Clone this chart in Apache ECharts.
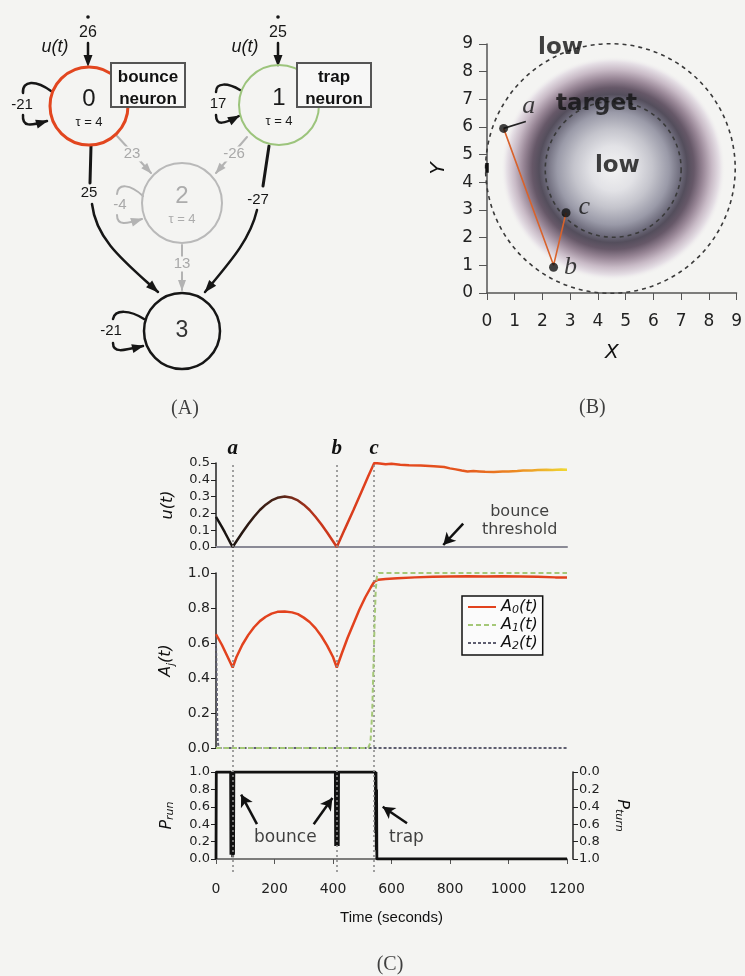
<!DOCTYPE html>
<html><head><meta charset="utf-8">
<script src="https://cdn.jsdelivr.net/npm/echarts@6/dist/echarts.min.js"></script>
<style>html,body{margin:0;padding:0;background:#f4f4f2}#c{width:745px;height:976px}</style>
</head><body><div id="c"></div><script>
// ================= DATA =================
// Panel A : network weights
const inputWeights = [26, 25];              // u(t) -> neuron 0, neuron 1
const selfWeights  = [-21, 17, -4, -21];    // neurons 0..3
const edgeFrom     = [0, 1, 0, 1, 2];
const edgeTo       = [2, 2, 3, 3, 3];
const edgeWeights  = [23, -26, 25, -27, 13];
const nodeTau      = [4, 4, 4, null];
const nodeNames    = ['0', '1', '2', '3'];

// Panel B : trajectory in the plane
const trajX = [0.6, 2.4, 2.85];
const trajY = [5.95, 1.0, 2.9];
const trajLabels = ['a', 'b', 'c'];
const tailX = [0.6, 1.4];
const tailY = [5.95, 6.2];
const startX = [0, 0];
const startY = [4.35, 4.7];
const planeTicks = [0,1,2,3,4,5,6,7,8,9];

// Panel C : time series
const eventT = [57, 413, 541];
const eventLabels = ['a', 'b', 'c'];
const uT = [0,10,20,30,40,50,57,70,90,110,130,150,170,190,210,235,260,280,300,320,340,360,380,400,413,440,470,500,520,541,560,580,600,630,660,700,745,780,800,820,840,860,880,900,920,950,980,1000,1030,1050,1080,1100,1130,1150,1180,1200];
const uV = [0.18,0.15,0.12,0.088,0.055,0.022,0,0.034,0.086,0.135,0.18,0.22,0.252,0.277,0.293,0.30,0.293,0.277,0.252,0.22,0.18,0.135,0.086,0.034,0,0.105,0.22,0.34,0.42,0.5,0.497,0.493,0.495,0.49,0.487,0.485,0.48,0.476,0.468,0.462,0.455,0.45,0.452,0.45,0.448,0.447,0.45,0.449,0.452,0.455,0.456,0.458,0.46,0.459,0.461,0.46];
const a0T = [0,20,40,57,70,90,110,130,150,170,190,210,235,260,280,300,320,340,360,380,400,413,430,450,470,490,510,530,541,555,580,620,680,740,800,860,920,980,1040,1100,1160,1200];
const a0V = [0.65,0.59,0.52,0.46,0.52,0.59,0.645,0.69,0.725,0.75,0.768,0.778,0.78,0.775,0.765,0.745,0.72,0.685,0.64,0.585,0.52,0.46,0.54,0.63,0.71,0.79,0.86,0.92,0.95,0.962,0.966,0.97,0.975,0.978,0.98,0.982,0.98,0.982,0.98,0.978,0.975,0.975];
const a1T = [0,520,528,534,538,542,546,550,556,1200];
const a1V = [0,0,0.03,0.2,0.45,0.7,0.9,0.98,1.0,1.0];
const a2T = [0,2,4,6,9,1200];
const a2V = [0.6,0.42,0.18,0.04,0,0];
const pT = [0,1,50,51,52,54,55,57,58,60,61,408,409,410,412,413,415,416,418,419,545,546,547,548,549,550,1200];
const pV = [0,1,1,0.05,1,0.05,1,0.02,1,0.05,1,1,0.15,1,0.15,1,0.15,1,0.15,1,1,0.3,1,0.1,0.8,0,0];
const timeTicks = [0,200,400,600,800,1000,1200];

// ================= LAYOUT (diagram geometry, in panel-A units) =================
const nodePos = [[89,106],[279,105],[182,203],[182,331]];
const nodeR = [39, 40, 40, 38];
const nodeCol = ['#e2461f', '#9cc47c', '#b9b9b9', '#161616'];
const nodeW = [3, 2, 2, 2.5];

const zip = (a, b) => a.map((v, i) => [v, b[i]]);

function renderNet(params, api) {
  const C = p => api.coord(p);
  const kids = [];
  const BLACK = '#161616', GREY = '#b3b3b3';
  const FONT = 'Liberation Sans, Arial, sans-serif';
  function line(a, b, color, w) {
    const A = C(a), B = C(b);
    kids.push({type:'line', shape:{x1:A[0],y1:A[1],x2:B[0],y2:B[1]}, style:{stroke:color,lineWidth:w,lineCap:'round'}});
  }
  function curve(a, c1, c2, b, color, w) {
    const A = C(a), C1 = C(c1), C2 = C(c2), B = C(b);
    kids.push({type:'bezierCurve', shape:{x1:A[0],y1:A[1],cpx1:C1[0],cpy1:C1[1],cpx2:C2[0],cpy2:C2[1],x2:B[0],y2:B[1]}, style:{stroke:color,lineWidth:w,fill:null,lineCap:'round'}});
  }
  function head(tip, from, color, len, wid) {
    const T = C(tip), F = C(from);
    const dx = T[0]-F[0], dy = T[1]-F[1], l = Math.hypot(dx, dy) || 1;
    const ux = dx/l, uy = dy/l;
    const bx = T[0]-ux*len, by = T[1]-uy*len;
    kids.push({type:'polygon', shape:{points:[[T[0]+ux*1,T[1]+uy*1],[bx-uy*wid/2,by+ux*wid/2],[bx+uy*wid/2,by-ux*wid/2]]}, style:{fill:color}});
  }
  function text(p, s, font, color, bg) {
    const P = C(p);
    const st = {text:s, font:font, fill:color, align:'center', verticalAlign:'middle'};
    if (bg) { st.backgroundColor = bg; st.padding = [0,1]; }
    kids.push({type:'text', x:P[0], y:P[1], style:st});
  }
  [[0, 88], [1, 278]].forEach(([k, x]) => {
    const P = C([x, 17]);
    kids.push({type:'circle', shape:{cx:P[0], cy:P[1], r:1.8}, style:{fill:BLACK}});
    text([x, 33], String(inputWeights[k]), '16px ' + FONT, BLACK);
    line([x, 43], [x, 57], BLACK, 2.5);
    head([x, 66], [x, 43], BLACK, 11, 9);
    text([x - 33, 47], 'u(t)', 'italic 18px ' + FONT, BLACK);
  });
  const selfGeo = [
    {t:[[51,91],[36,80],[22,80],[23,93]], b:[[23,115],[22,127],[30,126],[47,121]], lab:[22,105]},
    {t:[[240,90],[228,83],[216,82],[216,92]], b:[[216,115],[216,126],[224,124],[239,116]], lab:[218,104]},
    {t:[[143,196],[130,184],[118,183],[117,194]], b:[[117,215],[117,226],[126,224],[142,219]], lab:[120,205]},
    {t:[[144,319],[130,310],[115,309],[113,319]], b:[[113,343],[113,353],[122,351],[143,346]], lab:[111,331]}
  ];
  selfGeo.forEach((g, k) => {
    const col = k === 2 ? GREY : BLACK;
    const w = k === 2 ? 2 : 2.5;
    curve(g.t[0], g.t[1], g.t[2], g.t[3], col, w);
    curve(g.b[0], g.b[1], g.b[2], g.b[3], col, w);
    head(g.b[3], g.b[2], col, 11, 9);
    text(g.lab, String(selfWeights[k]), '15px ' + FONT, k === 2 ? '#a9a9a9' : BLACK);
  });
  const edgeGeo = [
    {seg:[[117,136],[151,173]], lab:[132,154]},
    {seg:[[247,137],[216,173]], lab:[234,154]},
    {seg1:[[91,146],[90,183]], cur:[[92,204],[96,240],[125,262],[158,292]], lab:[89,193]},
    {seg1:[[269,146],[263,186]], cur:[[257,210],[250,240],[230,262],[205,292]], lab:[258,200]},
    {seg:[[182,245],[182,290]], lab:[182,264]}
  ];
  edgeGeo.forEach((g, k) => {
    const grey = edgeFrom[k] === 2 || edgeTo[k] === 2;
    const col = grey ? GREY : BLACK;
    if (g.seg) {
      line(g.seg[0], g.seg[1], col, 2);
      head(g.seg[1], g.seg[0], col, 10, 8);
      text(g.lab, String(edgeWeights[k]), '15px ' + FONT, grey ? '#a9a9a9' : BLACK, '#f4f4f2');
    } else {
      line(g.seg1[0], g.seg1[1], col, 3);
      curve(g.cur[0], g.cur[1], g.cur[2], g.cur[3], col, 2.5);
      head(g.cur[3], g.cur[2], col, 12, 9);
      text(g.lab, String(edgeWeights[k]), '15px ' + FONT, BLACK);
    }
  });
  nodePos.forEach((p, k) => {
    const P = C(p);
    const r = api.size([nodeR[k], 0])[0];
    kids.push({type:'circle', shape:{cx:P[0], cy:P[1], r:r}, style:{fill:'rgba(0,0,0,0)', stroke:nodeCol[k], lineWidth:nodeW[k]}});
    const tc = k === 2 ? '#acacac' : '#1a1a1a';
    if (nodeTau[k] != null) {
      text([p[0], p[1] - 7], nodeNames[k], '24px ' + FONT, tc);
      text([p[0], p[1] + 16], 'τ = ' + nodeTau[k], '13px ' + FONT, tc);
    } else {
      text([p[0], p[1]], nodeNames[k], '23px ' + FONT, '#333');
    }
  });
  [[[111,63],['bounce','neuron'],148], [[297,63],['trap','neuron'],334]].forEach(([o, lines, cx]) => {
    const A = C(o), B = C([o[0] + 74, o[1] + 44]);
    kids.push({type:'rect', shape:{x:A[0], y:A[1], width:B[0]-A[0], height:B[1]-A[1]}, style:{fill:'#f7f7f6', stroke:'#555', lineWidth:2}});
    text([cx, 77], lines[0], 'bold 17px ' + FONT, '#111');
    text([cx, 99], lines[1], 'bold 17px ' + FONT, '#111');
  });
  return {type:'group', children:kids};
}

function renderCircle(kind) {
  return function (params, api) {
    const P = api.coord([api.value(0), api.value(1)]);
    const r = api.size([api.value(2), 0])[0];
    if (kind === 'field') {
      return {type:'circle', shape:{cx:P[0], cy:P[1], r:r}, style:{fill:new echarts.graphic.RadialGradient(0.5,0.5,0.5,[
        {offset:0, color:'#f3f3f3'},
        {offset:0.2, color:'#e2e2e6'},
        {offset:0.35, color:'#c4c4cc'},
        {offset:0.5, color:'#9a9aa8'},
        {offset:0.6, color:'#6e6c7c'},
        {offset:0.66, color:'#544e5c'},
        {offset:0.72, color:'#665868'},
        {offset:0.8, color:'#988696'},
        {offset:0.88, color:'#c8bac6'},
        {offset:0.95, color:'#e6e0e6'},
        {offset:1, color:'rgba(244,244,242,0)'}
      ])}};
    }
    return {type:'circle', shape:{cx:P[0], cy:P[1], r:r}, style:{fill:null, stroke:'#3a3a3a', lineWidth:1.6, lineDash:[4,4]}};
  };
}

const fieldData = [[4.55, 4.5, 4.05]];
const boundaryData = [[4.45, 4.5, 4.5], [4.55, 4.47, 2.45]];

const axisFont = 'DejaVu Sans, sans-serif';
const tickStyleC = {color:'#222', fontSize:13, fontFamily:axisFont};
const f1 = v => v.toFixed(1);
const captionLabel = {show:true, formatter:'{b}', position:'inside', fontSize:20, fontFamily:'Liberation Serif, serif', color:'#111'};

const chart = echarts.init(document.getElementById('c'));
const option = {
  backgroundColor:'#f4f4f2',
  animation:false,
  grid:[
    {left:0, top:0, width:400, height:400},
    {left:487, top:44, width:250, height:249},
    {left:216, top:463, width:351, height:84},
    {left:216, top:573, width:351, height:175},
    {left:216, top:772, width:351, height:87},
    {left:216, top:462, width:351, height:410}
  ],
  xAxis:[
    {gridIndex:0, type:'value', min:0, max:400, show:false},
    {gridIndex:1, type:'value', min:0, max:9, interval:1,
      axisLine:{lineStyle:{color:'#555', width:1.5}}, axisTick:{length:7, lineStyle:{color:'#555'}},
      axisLabel:{margin:20, fontSize:17, fontFamily:axisFont, color:'#222'}, splitLine:{show:false},
      name:'X', nameLocation:'middle', nameGap:50, nameTextStyle:{fontStyle:'italic', fontSize:20, fontFamily:axisFont, color:'#111'}},
    {gridIndex:2, type:'value', min:0, max:1200, axisLine:{lineStyle:{color:'#8a8a96', width:2}}, axisTick:{show:false}, axisLabel:{show:false}, splitLine:{show:false}},
    {gridIndex:3, type:'value', min:0, max:1200, axisLine:{show:false}, axisTick:{show:false}, axisLabel:{show:false}, splitLine:{show:false}},
    {gridIndex:4, type:'value', min:0, max:1200, interval:200, offset:11,
      axisLine:{lineStyle:{color:'#555', width:1.5}}, axisTick:{length:5, lineStyle:{color:'#555'}},
      axisLabel:{margin:12, ...tickStyleC, fontSize:14, formatter:v => String(v)}, splitLine:{show:false},
      name:'Time (seconds)', nameLocation:'middle', nameGap:40, nameTextStyle:{fontSize:15, fontFamily:'Liberation Sans, Arial', color:'#111'}},
    {gridIndex:5, type:'value', min:0, max:1200, show:false}
  ],
  yAxis:[
    {gridIndex:0, type:'value', min:0, max:400, inverse:true, show:false},
    {gridIndex:1, type:'value', min:0, max:9, interval:1,
      axisLine:{lineStyle:{color:'#555', width:1.5}}, axisTick:{length:8, lineStyle:{color:'#555'}},
      axisLabel:{margin:14, fontSize:17, fontFamily:axisFont, color:'#222'}, splitLine:{show:false},
      name:'Y', nameLocation:'middle', nameGap:38, nameTextStyle:{fontStyle:'italic', fontSize:20, fontFamily:axisFont, color:'#111'}},
    {gridIndex:2, type:'value', min:0, max:0.5, interval:0.1,
      axisLine:{show:true, lineStyle:{color:'#222', width:1.5}}, axisTick:{show:true, length:5, lineStyle:{color:'#222'}},
      axisLabel:{margin:6, formatter:f1, ...tickStyleC}, splitLine:{show:false},
      name:'u(t)', nameLocation:'middle', nameGap:40, nameTextStyle:{fontStyle:'italic', fontSize:16, fontFamily:axisFont, color:'#111'}},
    {gridIndex:3, type:'value', min:0, max:1, interval:0.2,
      axisLine:{show:true, lineStyle:{color:'#222', width:1.5}}, axisTick:{show:true, length:5, lineStyle:{color:'#222'}},
      axisLabel:{margin:6, formatter:f1, ...tickStyleC, fontSize:14}, splitLine:{show:false},
      name:'{i|A}{s|j}{i|(t)}', nameLocation:'middle', nameGap:40,
      nameTextStyle:{color:'#111', rich:{i:{fontStyle:'italic', fontSize:16, fontFamily:axisFont}, s:{fontStyle:'italic', fontSize:10, fontFamily:axisFont, padding:[10,0,0,0]}}}},
    {gridIndex:4, type:'value', min:0, max:1, interval:0.2,
      axisLine:{show:true, lineStyle:{color:'#222', width:1.5}}, axisTick:{show:true, length:5, lineStyle:{color:'#222'}},
      axisLabel:{margin:6, formatter:f1, ...tickStyleC}, splitLine:{show:false},
      name:'{i|P}{s|run}', nameLocation:'middle', nameGap:40,
      nameTextStyle:{color:'#111', rich:{i:{fontStyle:'italic', fontSize:16, fontFamily:axisFont}, s:{fontStyle:'italic', fontSize:11, fontFamily:axisFont, padding:[8,0,0,0]}}}},
    {gridIndex:4, type:'value', min:0, max:1, interval:0.2, inverse:true, position:'right', offset:6,
      axisLine:{show:true, lineStyle:{color:'#222', width:1.5}}, axisTick:{show:true, length:5, lineStyle:{color:'#222'}},
      axisLabel:{margin:6, formatter:f1, ...tickStyleC}, splitLine:{show:false},
      name:'{i|P}{s|turn}', nameLocation:'middle', nameGap:40, nameRotate:-90,
      nameTextStyle:{color:'#111', rich:{i:{fontStyle:'italic', fontSize:16, fontFamily:axisFont}, s:{fontStyle:'italic', fontSize:11, fontFamily:axisFont, padding:[8,0,0,0]}}}},
    {gridIndex:5, type:'value', min:0, max:1, show:false}
  ],
  legend:{
    data:['A0','A1','A2'], orient:'vertical', left:462, top:596, itemGap:1, itemWidth:28, itemHeight:12,
    backgroundColor:'#fbfbfb', borderColor:'#111', borderWidth:1.5, padding:[3,5,3,5], borderRadius:0,
    itemStyle:{opacity:0},
    formatter: n => '{i|A}{s|' + n.slice(1) + '}{i|(t)}',
    textStyle:{color:'#111', rich:{i:{fontStyle:'italic', fontSize:16, fontFamily:axisFont}, s:{fontStyle:'italic', fontSize:11, fontFamily:axisFont, padding:[7,0,0,0]}}}
  },
  series:[
    // ---------- Panel A ----------
    {type:'custom', xAxisIndex:0, yAxisIndex:0, data:[[0,0]], renderItem:renderNet, silent:true, z:3},
    {type:'scatter', xAxisIndex:0, yAxisIndex:0, symbolSize:0, silent:true, clip:false,
      data:[{value:[185,409], name:'(A)'}], label:captionLabel},
    // ---------- Panel B ----------
    {type:'custom', xAxisIndex:1, yAxisIndex:1, data:fieldData, renderItem:renderCircle('field'), silent:true, z:1},
    {type:'custom', xAxisIndex:1, yAxisIndex:1, data:boundaryData, renderItem:renderCircle('bound'), silent:true, z:2},
    {type:'line', xAxisIndex:1, yAxisIndex:1, data:zip(trajX, trajY), symbol:'none', lineStyle:{color:'#d8632c', width:1.6}, z:3},
    {type:'line', xAxisIndex:1, yAxisIndex:1, data:zip(tailX, tailY), symbol:'none', lineStyle:{color:'#222', width:1.6}, z:3},
    {type:'line', xAxisIndex:1, yAxisIndex:1, data:zip(startX, startY), symbol:'none', lineStyle:{color:'#111', width:3.5}, z:4},
    {type:'scatter', xAxisIndex:1, yAxisIndex:1, data:zip(trajX, trajY).map((p, i) => ({value:i === 1 ? [trajX[i], 0.93] : p, name:trajLabels[i]})),
      symbolSize:9, itemStyle:{color:'#111'}, z:5,
      label:{show:true, formatter:'{b}', position:'right', distance:4, fontSize:26, fontStyle:'italic', fontFamily:'Liberation Serif, serif', color:'#111'},
      labelLayout:function(p){ const off = [[10,-22],[2,0],[4,-6]][p.dataIndex]; return {dx:off[0], dy:off[1]}; }},
    {type:'scatter', xAxisIndex:1, yAxisIndex:1, symbolSize:0, silent:true, z:6,
      data:[{value:[2.65,8.85], name:'low'}, {value:[3.95,6.82], name:'target'}, {value:[4.7,4.6], name:'low'}],
      label:{show:true, formatter:'{b}', position:'inside', fontSize:23, fontWeight:'bold', fontFamily:'DejaVu Sans, sans-serif', color:'#111'}},
    {type:'scatter', xAxisIndex:1, yAxisIndex:1, symbolSize:0, silent:true, clip:false,
      data:[{value:[3.8,-4.15], name:'(B)'}], label:captionLabel},
    // ---------- Panel C : u(t) ----------
    {type:'line', name:'u', xAxisIndex:2, yAxisIndex:2, data:zip(uT, uV), symbol:'none', z:4,
      lineStyle:{width:2.5, color:new echarts.graphic.LinearGradient(0,0,1,0,[
        {offset:0, color:'#141414'}, {offset:0.05, color:'#1c1410'}, {offset:0.18, color:'#4a2418'},
        {offset:0.3, color:'#c8361c'}, {offset:0.45, color:'#e4421e'}, {offset:0.7, color:'#e4561e'},
        {offset:0.85, color:'#ec8a22'}, {offset:1, color:'#f0dc34'}])},
      markLine:{silent:true, symbol:['none','arrow'], symbolSize:[10,12], lineStyle:{color:'#111', width:2.5, type:'solid'}, label:{show:false},
        data:[[{coord:[845,0.139]},{coord:[777,0.012]}]]}},
    {type:'scatter', xAxisIndex:2, yAxisIndex:2, symbolSize:0, silent:true,
      data:[{value:[1038,0.21], name:'bounce'}, {value:[1038,0.103], name:'threshold'}],
      label:{show:true, formatter:'{b}', position:'inside', fontSize:16, fontFamily:axisFont, color:'#111'}},
    // ---------- Panel C : A_j(t) ----------
    {type:'line', name:'A2', xAxisIndex:3, yAxisIndex:3, data:zip(a2T, a2V), symbol:'none', z:3,
      lineStyle:{color:'#5e5e70', width:2, type:[3,2]}, itemStyle:{color:'#5e5e70'}},
    {type:'line', name:'A0', xAxisIndex:3, yAxisIndex:3, data:zip(a0T, a0V), symbol:'none', z:4,
      lineStyle:{color:'#e2421e', width:2.5}, itemStyle:{color:'#e2421e'}},
    {type:'line', name:'A1', xAxisIndex:3, yAxisIndex:3, data:zip(a1T, a1V), symbol:'none', z:5,
      lineStyle:{color:'#a5c878', width:2, type:[5,3]}, itemStyle:{color:'#a5c878'}},
    // ---------- Panel C : P_run ----------
    {type:'line', name:'Prun', xAxisIndex:4, yAxisIndex:4, data:zip(pT, pV), symbol:'none', z:4,
      lineStyle:{color:'#111', width:2.8},
      markLine:{silent:true, symbol:['none','arrow'], symbolSize:[10,12], lineStyle:{color:'#111', width:2.5, type:'solid'}, label:{show:false},
        data:[[{coord:[140,0.40]},{coord:[86,0.74]}], [{coord:[334,0.40]},{coord:[398,0.70]}], [{coord:[653,0.41]},{coord:[570,0.6]}]]}},
    {type:'scatter', xAxisIndex:4, yAxisIndex:4, symbolSize:0, silent:true,
      data:[{value:[237,0.245], name:'bounce'}, {value:[651,0.245], name:'trap'}],
      label:{show:true, formatter:'{b}', position:'inside', fontSize:17, fontFamily:axisFont, color:'#111'}},
    // ---------- event lines a, b, c ----------
    {type:'line', xAxisIndex:5, yAxisIndex:6, data:[[0,0]], symbol:'none', lineStyle:{opacity:0}, z:2,
      markLine:{silent:true, symbol:['none','none'], lineStyle:{color:'#8a8a8a', width:1.6, type:[2,3]},
        label:{show:true, position:'end', formatter:'{b}', distance:3, fontSize:21, fontStyle:'italic', fontWeight:'bold', fontFamily:'Liberation Serif, serif', color:'#111'},
        data:eventT.map((t, i) => ({xAxis:t, name:eventLabels[i]}))}},
    {type:'scatter', xAxisIndex:5, yAxisIndex:6, symbolSize:0, silent:true, clip:false,
      data:[{value:[595,-0.225], name:'(C)'}], label:captionLabel}
  ]
};
chart.setOption(option);
</script></body></html>
